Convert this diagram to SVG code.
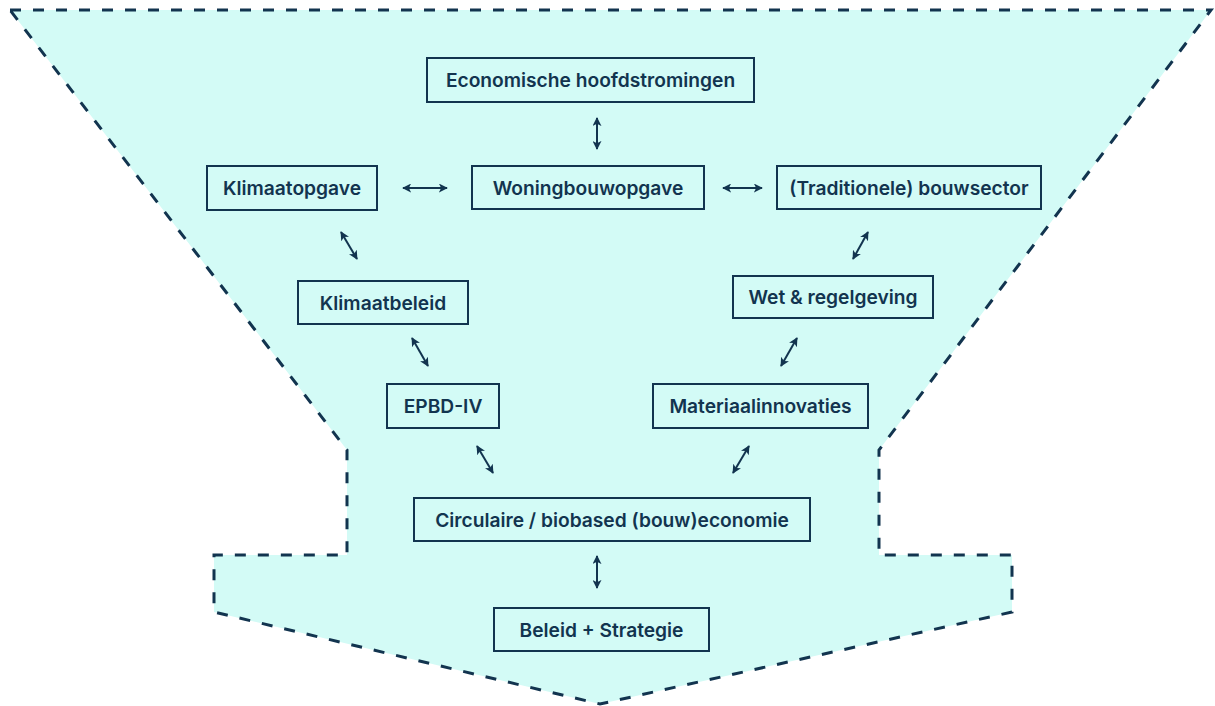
<svg xmlns="http://www.w3.org/2000/svg" width="1215" height="706" viewBox="0 0 1215 706">
  <defs>
    <marker id="head" viewBox="0 0 10 10" refX="9" refY="5" markerWidth="4.5" markerHeight="4.5" orient="auto-start-reverse" markerUnits="strokeWidth">
      <path d="M0,0 L10,5 L0,10 L2.5,5 Z" fill="#12344f"/>
    </marker>
    <style>
      .funnel { fill: #d3fbf6; stroke: #12344f; stroke-width: 3; stroke-dasharray: 11 12; stroke-linejoin: miter; }
      .box { fill: none; stroke: #12344f; stroke-width: 2; }
      .label { font-family: Inter, "Liberation Sans", sans-serif; font-weight: 600; font-size: 19.2px; fill: #12344f; text-anchor: middle; dominant-baseline: central; }
      .link { stroke: #12344f; stroke-width: 2; fill: none; marker-start: url(#head); marker-end: url(#head); }
    </style>
  </defs>

  <!-- funnel background with dashed outline -->
  <path class="funnel" d="M10,10 L1211,10 L879,450 L879,555 L1012,555 L1012,612 L600,704 L214,612 L214,555 L347,555 L347,450 Z"/>

  <g id="connectors">
    <line class="link" x1="597" y1="118" x2="597" y2="149"/>
    <line class="link" x1="403" y1="188" x2="447" y2="188"/>
    <line class="link" x1="723" y1="188" x2="762" y2="188"/>
    <line class="link" x1="341" y1="232" x2="357" y2="259"/>
    <line class="link" x1="412" y1="338" x2="428" y2="366"/>
    <line class="link" x1="477" y1="446" x2="493" y2="473"/>
    <line class="link" x1="868" y1="232" x2="853" y2="259"/>
    <line class="link" x1="797" y1="338" x2="781" y2="366"/>
    <line class="link" x1="749" y1="446" x2="733" y2="473"/>
    <line class="link" x1="597" y1="556" x2="597" y2="588"/>
  </g>

  <g id="economische">
    <rect class="box" x="427" y="58" width="327" height="44"/>
    <text class="label" x="590.5" y="80">Economische hoofdstromingen</text>
  </g>
  <g id="klimaatopgave">
    <rect class="box" x="207" y="166" width="170" height="44"/>
    <text class="label" x="292" y="188">Klimaatopgave</text>
  </g>
  <g id="woningbouwopgave">
    <rect class="box" x="472" y="166" width="232" height="43"/>
    <text class="label" x="588" y="187.5">Woningbouwopgave</text>
  </g>
  <g id="bouwsector">
    <rect class="box" x="777" y="166" width="264" height="43"/>
    <text class="label" x="909" y="187.5">(Traditionele) bouwsector</text>
  </g>
  <g id="klimaatbeleid">
    <rect class="box" x="298" y="281" width="170" height="43"/>
    <text class="label" x="383" y="302.5">Klimaatbeleid</text>
  </g>
  <g id="wetgeving">
    <rect class="box" x="733" y="276" width="200" height="42"/>
    <text class="label" x="833" y="297">Wet &amp; regelgeving</text>
  </g>
  <g id="epbd">
    <rect class="box" x="387" y="384" width="112" height="44"/>
    <text class="label" x="443" y="406">EPBD-IV</text>
  </g>
  <g id="materiaal">
    <rect class="box" x="653" y="384" width="215" height="44"/>
    <text class="label" x="760.5" y="406">Materiaalinnovaties</text>
  </g>
  <g id="circulaire">
    <rect class="box" x="414" y="498" width="396" height="43"/>
    <text class="label" x="612" y="519.5">Circulaire / biobased (bouw)economie</text>
  </g>
  <g id="beleid">
    <rect class="box" x="494" y="608" width="215" height="43"/>
    <text class="label" x="601.5" y="629.5">Beleid + Strategie</text>
  </g>
</svg>
